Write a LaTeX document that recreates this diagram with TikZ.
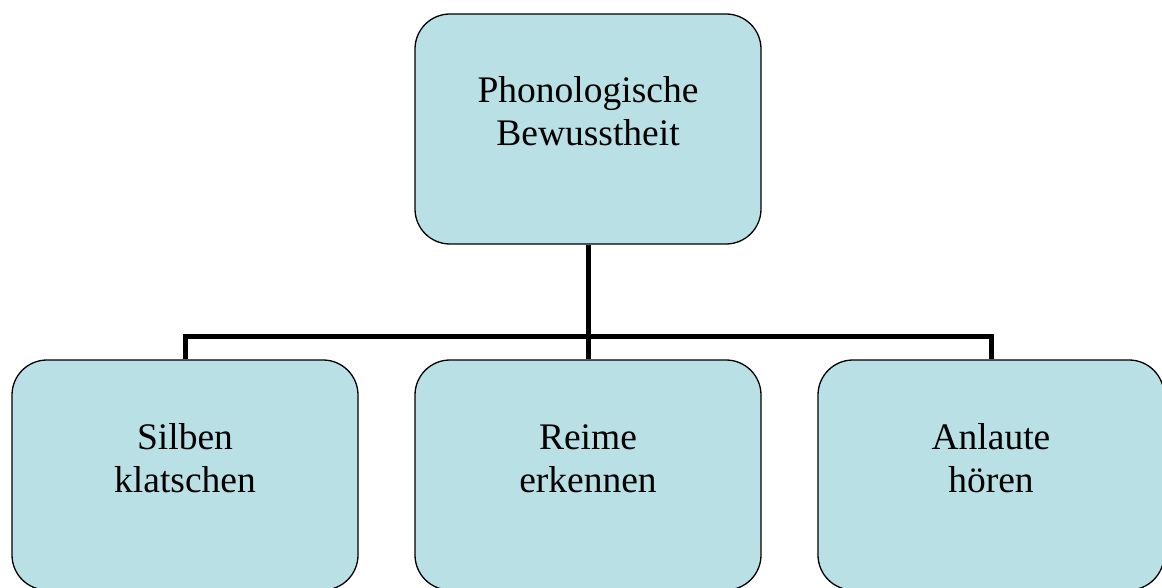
\documentclass[tikz,border=0pt]{standalone}
\usepackage{fontspec}
\setmainfont{Liberation Serif}
\usetikzlibrary{backgrounds}
\definecolor{boxfill}{RGB}{185,224,228}
\begin{document}
\begin{tikzpicture}[x=1pt,y=-1pt,
  box/.style={draw=black,line width=1.3pt,fill=boxfill,rounded corners=35pt,
    minimum width=346pt,minimum height=230pt,inner sep=0pt},
  lbl/.style={align=center,anchor=base,font=\fontsize{37.5}{43}\selectfont,inner sep=0pt},
  conn/.style={line width=5pt,line join=miter,draw=black}]
\useasboundingbox (0,0) rectangle (1162,588);
\coordinate (bus) at (588,336);
\node[box] (top) at (588,129) {};
\node[box] (left) at (185,475) {};
\node[box] (mid) at (588,475) {};
\node[box] (right) at (991,475) {};
\begin{scope}[on background layer]
\draw[conn] (top.south) -- (mid.north);
\draw[conn] (left.north) |- (bus) -| (right.north);
\end{scope}
\node[lbl] (t0) at ([yshift=-132pt]top.north) {Phonologische\\Bewusstheit};
\node[lbl] (t1) at ([yshift=-133pt]left.north) {Silben\\klatschen};
\node[lbl] (t2) at ([yshift=-133pt]mid.north) {Reime\\erkennen};
\node[lbl] (t3) at ([yshift=-133pt]right.north) {Anlaute\\hören};
\end{tikzpicture}
\end{document}
